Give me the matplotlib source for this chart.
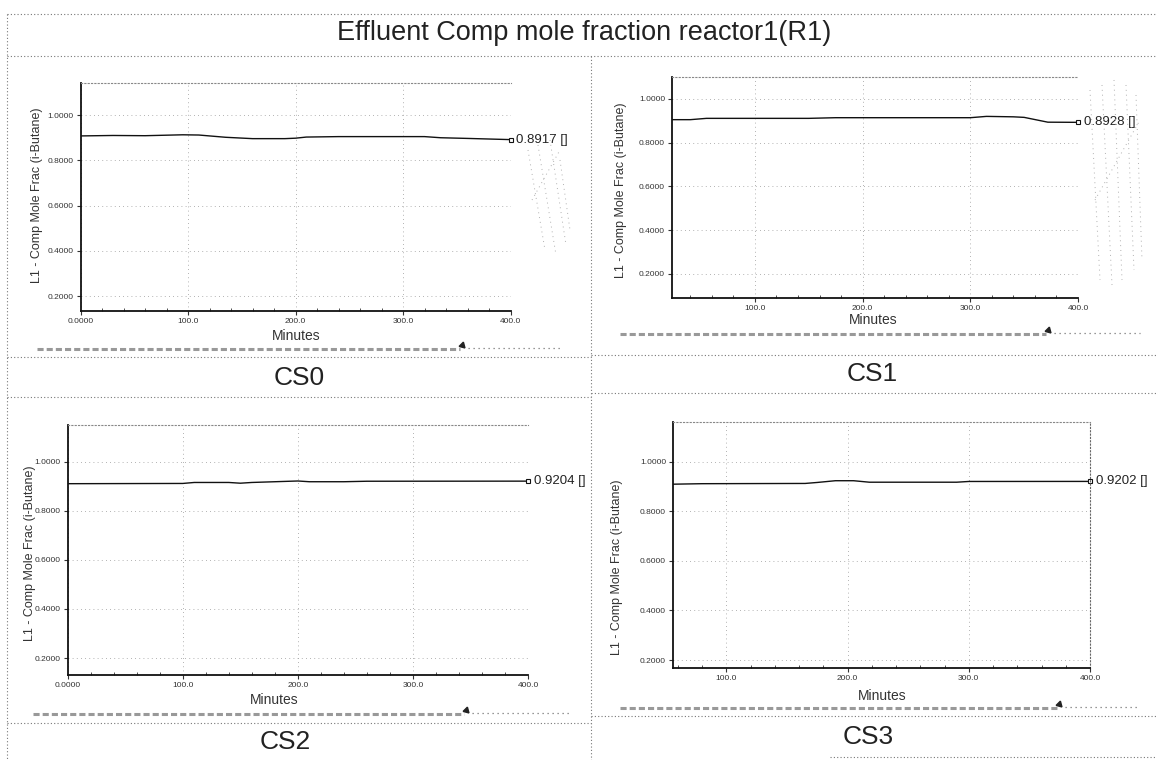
import matplotlib
matplotlib.use("Agg")
import matplotlib.pyplot as plt
from matplotlib.lines import Line2D
from matplotlib.ticker import FixedLocator, FuncFormatter, MultipleLocator

plt.rcParams['font.family'] = ['Liberation Sans', 'DejaVu Sans']

# ---------------- data ----------------
title = "Effluent Comp mole fraction reactor1(R1)"
case_names = ["CS0", "CS1", "CS2", "CS3"]
end_labels = ["0.8917 []", "0.8928 []", "0.9204 []", "0.9202 []"]
y_label = "L1 - Comp Mole Frac (i-Butane)"
x_label = "Minutes"
y_ticks = [0.2, 0.4, 0.6, 0.8, 1.0]

cs0_t = [0, 30, 60, 95, 110, 135, 160, 190, 200, 210, 240, 320, 335, 360, 400]
cs0_v = [0.908, 0.910, 0.909, 0.913, 0.912, 0.902, 0.896, 0.896, 0.898, 0.903, 0.905, 0.905, 0.900, 0.897, 0.8917]

cs1_t = [23, 40, 55, 150, 175, 300, 315, 340, 350, 372, 400]
cs1_v = [0.905, 0.905, 0.911, 0.911, 0.914, 0.914, 0.920, 0.918, 0.9155, 0.8935, 0.8928]

cs2_t = [0, 100, 110, 140, 150, 160, 180, 200, 210, 240, 260, 400]
cs2_v = [0.910, 0.911, 0.915, 0.915, 0.912, 0.915, 0.918, 0.921, 0.918, 0.918, 0.920, 0.9204]

cs3_t = [56, 80, 165, 175, 190, 205, 218, 290, 300, 400]
cs3_v = [0.909, 0.911, 0.912, 0.916, 0.923, 0.923, 0.917, 0.917, 0.920, 0.9202]

series_t = [cs0_t, cs1_t, cs2_t, cs3_t]
series_v = [cs0_v, cs1_v, cs2_v, cs3_v]
x_ticks = [[0, 100, 200, 300, 400], [100, 200, 300, 400],
           [0, 100, 200, 300, 400], [100, 200, 300, 400]]
x_lims = [(0, 400), (23, 400), (0, 400), (56, 400)]
y_lims = [(0.134, 1.142), (0.09, 1.10), (0.131, 1.149), (0.169, 1.161)]

# ---------------- layout (pixels) ----------------
W, H = 1156, 760
fig = plt.figure(figsize=(W / 100, H / 100), dpi=100)
fig.patch.set_facecolor('white')

def fx(x):
    return x / W

def fy(y):
    return 1 - y / H

def seg(xs, ys, color='#777777', lw=0.8, ls=(0, (1, 2))):
    fig.add_artist(Line2D([fx(v) for v in xs], [fy(v) for v in ys],
                          transform=fig.transFigure, color=color, lw=lw, ls=ls))

def hline(x0, x1, y, **kw):
    seg([x0, x1], [y, y], **kw)

def vline(x, y0, y1, **kw):
    seg([x, x], [y0, y1], **kw)

# table frame
hline(7, 1156, 14)
hline(7, 1156, 56)
vline(7, 14, 760)
vline(591, 56, 760)
hline(7, 591, 357)
hline(7, 591, 397)
hline(591, 1156, 355)
hline(591, 1156, 393)
hline(7, 591, 723)
hline(591, 1156, 716)
hline(830, 1156, 757)

fig.text(fx(584), fy(33), title, ha='center', va='center', fontsize=19.5, color='#222222')

# scan texture beside the top charts (faint dotted strokes)
tex = '#b0b0b0'
for (xa, ya, xb, yb) in [(528, 150, 545, 250), (538, 145, 556, 255), (550, 140, 566, 245),
                         (560, 160, 570, 230), (532, 200, 560, 150)]:
    seg([xa, xb], [ya, yb], color=tex, lw=0.7, ls=(0, (1, 4)))
for (xa, ya, xb, yb) in [(1090, 90, 1100, 280), (1102, 85, 1112, 285), (1114, 80, 1122, 280),
                         (1126, 85, 1134, 270), (1136, 95, 1142, 260), (1095, 200, 1140, 120)]:
    seg([xa, xb], [ya, yb], color=tex, lw=0.7, ls=(0, (1, 4)))

# panel geometry: axes rect, label positions, etc.
panels = [
    dict(rect=(80.6, 83, 510.5, 311), ylab=(37, 195), xlab=(296, 336),
         bar=(37, 460, 349, 562), name=(299, 378)),
    dict(rect=(672, 77, 1078, 298), ylab=(621, 190), xlab=(873, 320),
         bar=(620, 1046, 334, 1140), name=(872, 374)),
    dict(rect=(67.7, 425, 528, 675), ylab=(30, 553), xlab=(274, 700),
         bar=(33, 464, 714, 572), name=(285, 742)),
    dict(rect=(673, 421.7, 1090, 667.7), ylab=(617, 567), xlab=(882, 696),
         bar=(620, 1057, 708, 1140), name=(868, 737)),
]

for i, p in enumerate(panels):
    x0, y0, x1, y1 = p['rect']
    ax = fig.add_axes([fx(x0), fy(y1), (x1 - x0) / W, (y1 - y0) / H])
    ax.set_facecolor('none')
    ax.set_xlim(*x_lims[i])
    ax.set_ylim(*y_lims[i])
    ax.plot(series_t[i], series_v[i], color='#111111', lw=1.0, solid_joinstyle='miter')
    ax.plot([series_t[i][-1]], [series_v[i][-1]], marker='s', ms=3.5, mfc='white',
            mec='#111111', mew=0.8, clip_on=False)
    ax.annotate(end_labels[i], xy=(series_t[i][-1], series_v[i][-1]), xytext=(4, 0),
                textcoords='offset points', ha='left', va='center', fontsize=9.5,
                color='#222222', annotation_clip=False)

    ax.xaxis.set_major_locator(FixedLocator(x_ticks[i]))
    ax.xaxis.set_minor_locator(MultipleLocator(20))
    ax.yaxis.set_major_locator(FixedLocator(y_ticks))
    ax.xaxis.set_major_formatter(FuncFormatter(lambda v, pos: "0.0000" if v == 0 else f"{v:.1f}"))
    ax.yaxis.set_major_formatter(FuncFormatter(lambda v, pos: f"{v:.4f}"))
    ax.tick_params(axis='both', which='major', labelsize=6, length=3, width=0.8,
                   colors='#333333', pad=2)
    ax.tick_params(axis='x', which='minor', direction='in', length=2, width=0.6, color='#333333')

    ax.grid(True, which='major', color='#999999', lw=0.6, ls=(0, (1, 4)))

    for s in ['left', 'bottom']:
        ax.spines[s].set_color('#111111')
        ax.spines[s].set_linewidth(1.3)
    ax.spines['top'].set_color('#888888')
    ax.spines['top'].set_linestyle((0, (1, 2)))
    ax.spines['top'].set_linewidth(0.8)
    if i == 3:
        ax.spines['right'].set_color('#666666')
        ax.spines['right'].set_linestyle((0, (1, 2)))
        ax.spines['right'].set_linewidth(0.8)
    else:
        ax.spines['right'].set_visible(False)

    # axis titles
    fig.text(fx(p['ylab'][0]), fy(p['ylab'][1]), y_label, rotation=90, ha='center',
             va='center', fontsize=9, color='#333333')
    fig.text(fx(p['xlab'][0]), fy(p['xlab'][1]), x_label, ha='center', va='center',
             fontsize=10, color='#333333')

    # scrollbar strip under each chart
    bx0, bx1, by, bx2 = p['bar']
    hline(bx0, bx1, by, color='#999999', lw=2.2, ls=(0, (2, 1)))
    fig.add_artist(Line2D([fx(bx1 + 2)], [fy(by - 4)], transform=fig.transFigure,
                          marker=(3, 0, 225), ms=5, color='#222222'))
    hline(bx1 + 8, bx2, by - 1, color='#777777', lw=0.9, ls=(0, (1, 3)))

    # case label
    fig.text(fx(p['name'][0]), fy(p['name'][1]), case_names[i], ha='center',
             va='center', fontsize=19, color='#222222')

fig.savefig("out.png", dpi=100, facecolor='white')
